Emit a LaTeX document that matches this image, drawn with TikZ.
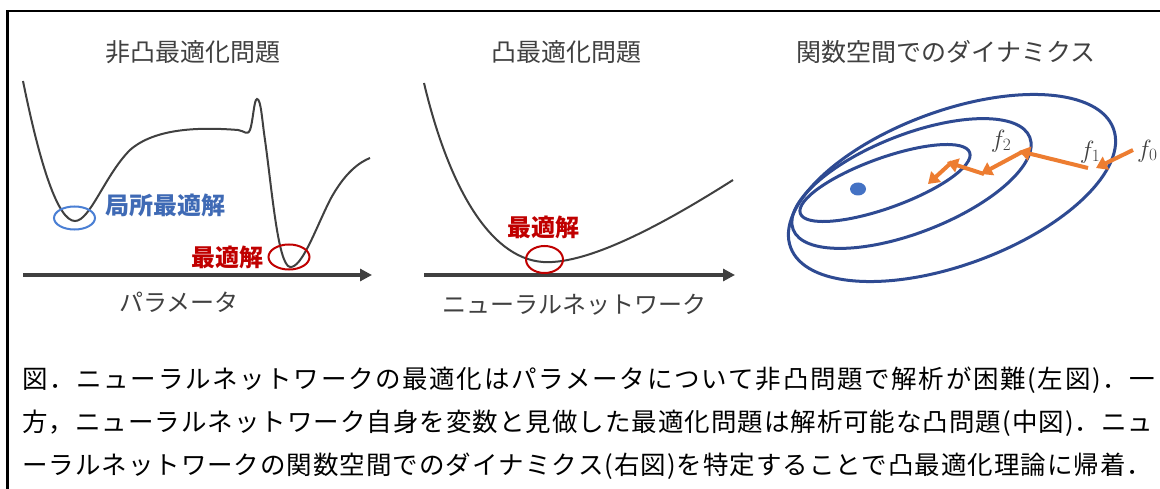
\documentclass[tikz,border=0pt]{standalone}
\usepackage{fontspec}
\setmainfont{Noto Sans CJK JP}
\usetikzlibrary{arrows.meta,shapes.geometric}
\def\spreadchars#1{\spreadfirst#1\relax}
\def\spreadfirst#1{#1\spreadrest}
\def\spreadrest#1{\ifx#1\relax\else\hfil#1\expandafter\spreadrest\fi}
\definecolor{tgray}{HTML}{404040}
\definecolor{lblue}{HTML}{3F6AB5}
\definecolor{cblue}{HTML}{4A7FD4}
\definecolor{lred}{HTML}{C00000}
\definecolor{eblue}{HTML}{2E4A92}
\definecolor{dblue}{HTML}{4472C4}
\definecolor{orng}{HTML}{ED7D31}
\tikzset{
  title/.style={text=tgray, font=\fontsize{25}{29}\selectfont, inner sep=0pt},
  axislabel/.style={text=tgray, font=\fontsize{24}{28}\selectfont, inner sep=0pt},
  bluelabel/.style={text=lblue, font=\fontsize{24}{28}\selectfont\bfseries, inner sep=0pt},
  redlabel/.style={text=lred, font=\fontsize{24}{28}\selectfont\bfseries, inner sep=0pt},
  capline/.style={text=black, font=\fontsize{25.5}{29}\selectfont, inner sep=0pt, anchor=west},
  curve/.style={draw=tgray, line width=2pt},
  axis/.style={draw=tgray, line width=4pt, -{Triangle[length=12pt,width=12pt]}},
  contour/.style={draw=eblue, line width=3pt},
  flow/.style={draw=orng, line width=4pt, -{Triangle[length=11pt,width=14pt]}},
  flabel/.style={text=tgray, font=\fontsize{24}{28}\selectfont, inner sep=0pt},
}
\begin{document}
\begin{tikzpicture}[x=1pt,y=-1pt]
\useasboundingbox (0,0) rectangle (1160,489);
\fill[white] (0,0) rectangle (1160,489);
% frame
\draw[line width=2.5pt, black] (7.5,489) -- (7.5,11) -- (1160,11);

% ---------- left panel ----------
\node[title] (t1) at (193,52) {非凸最適化問題};
\draw[curve] (23,81) .. controls (40,165) and (58,221) .. (75,221)
  .. controls (90,221) and (105,175) .. (130,150)
  .. controls (155,128) and (200,127) .. (238,130)
  .. controls (245,131) and (247,136) .. (250,130)
  .. controls (253,122) and (254,99) .. (257,99)
  .. controls (261,99) and (262,120) .. (265,140)
  .. controls (272,190) and (278,265) .. (290,267)
  .. controls (302,268) and (315,230) .. (330,200)
  .. controls (345,172) and (360,162) .. (370,158);
\coordinate (a1s) at (23,275);
\coordinate (a1e) at (372,275);
\draw[axis] (a1s) -- (a1e);
\node[draw=cblue, line width=2pt, ellipse, minimum width=41pt, minimum height=23pt, inner sep=0pt] (loc) at (74.5,218) {};
\node[bluelabel, anchor=west] (loclab) at (105,205) {局所最適解};
\node[draw=lred, line width=2pt, ellipse, minimum width=41pt, minimum height=25pt, inner sep=0pt] (opt1) at (289,257) {};
\node[redlabel, anchor=east] (opt1lab) at (264,257) {最適解};
\node[axislabel] (x1) at (179,302) {パラメータ};

% ---------- middle panel ----------
\node[title] (t2) at (566,52) {凸最適化問題};
\draw[curve] (424,83) .. controls (447,180) and (487,258) .. (543,262)
  .. controls (590,265) and (670,220) .. (733,180);
\coordinate (a2s) at (424,275);
\coordinate (a2e) at (735,275);
\draw[axis] (a2s) -- (a2e);
\node[draw=lred, line width=2pt, ellipse, minimum width=37pt, minimum height=27pt, inner sep=0pt] (opt2) at (544.5,259.5) {};
\node[redlabel] (opt2lab) at (543,227) {最適解};
\node[axislabel] (x2) at (574,305) {ニューラルネットワーク};

% ---------- right panel ----------
\node[title] (t3) at (946,52) {関数空間でのダイナミクス};
\draw[contour, rotate around={20.2:(952,188)}] (952,188) ellipse [x radius=172, y radius=77];
\draw[contour, rotate around={21.3:(911.5,183.5)}] (911.5,183.5) ellipse [x radius=127, y radius=49];
\draw[contour, rotate around={19.8:(885,183)}] (885,183) ellipse [x radius=90, y radius=25];
\fill[dblue] (858,189) ellipse [x radius=8, y radius=6.5];
\coordinate (o0) at (1133,150);
\coordinate (o1) at (1096,168);
\coordinate (o1b) at (1088,168);
\coordinate (o2) at (1019,151);
\coordinate (o2b) at (1022,152);
\coordinate (o3) at (981,174);
\coordinate (o3b) at (984,174);
\coordinate (o4) at (947,162);
\coordinate (o4b) at (952,162);
\coordinate (o5) at (928,184);
\draw[flow] (o0) -- (o1);
\draw[flow] (o1b) -- (o2);
\draw[flow] (o2b) -- (o3);
\draw[flow] (o3b) -- (o4);
\draw[flow] (o4b) -- (o5);
\node[flabel] (f2) at (1001,141) {$f_2$};
\node[flabel] (f1) at (1090,152) {$f_1$};
\node[flabel, anchor=west] (f0) at (1137,151) {$f_0$};

% ---------- caption ----------
\node[capline] (c1) at (22,380) {\hbox to 1133pt{\spreadchars{図．ニューラルネットワークの最適化はパラメータについて非凸問題で解析が困難(左図)．一}}};
\node[capline] (c2) at (22,423) {\hbox to 1131pt{\spreadchars{方，ニューラルネットワーク自身を変数と見做した最適化問題は解析可能な凸問題(中図)．ニュ}}};
\node[capline] (c3) at (22,466) {\hbox to 1130pt{\spreadchars{ーラルネットワークの関数空間でのダイナミクス(右図)を特定することで凸最適化理論に帰着．}}};
\end{tikzpicture}
\end{document}
